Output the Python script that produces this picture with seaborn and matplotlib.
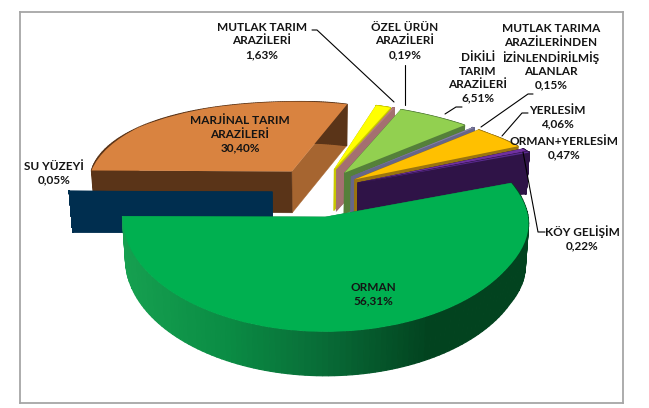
import numpy as np
import matplotlib
matplotlib.use("Agg")
import matplotlib.pyplot as plt
from matplotlib.colors import LinearSegmentedColormap
from matplotlib.lines import Line2D
from matplotlib.transforms import Transform
import seaborn as sns

names = [
    "MARJİNAL TARIM\nARAZİLERİ",
    "MUTLAK TARIM\nARAZİLERİ",
    "ÖZEL ÜRÜN\nARAZİLERİ",
    "DİKİLİ\nTARIM\nARAZİLERİ",
    "MUTLAK TARIMA\nARAZİLERİNDEN\nİZİNLENDİRİLMİŞ\nALANLAR",
    "YERLESİM",
    "ORMAN+YERLESİM",
    "KÖY GELİŞİM",
    "ORMAN",
    "SU YÜZEYİ",
]
shares = [30.40, 1.63, 0.19, 6.51, 0.15, 4.06, 0.47, 0.22, 56.31, 0.05]
top_colors = ["#D98340", "#FFFF00", "#B87E7E", "#92D050", "#8A84A8",
              "#FFC000", "#7030A0", "#5A2A90", "#00B050", "#002E4F"]
wall_colors = ["#5A3418", "#C8C800", "#A47070", "#55803A", "#66668A",
               "#9A7410", "#2F1347", "#2F1347", "#0A8C44", "#002E4F"]
# second face of the orange slice, it catches more light
orange_side = "#A66530"
orman_wall = ["#16A050", "#0A8C44", "#086A36", "#02431F", "#02431F"]
# su has to be painted before orman
paint_rank = [0, 1, 2, 3, 4, 5, 6, 7, 9, 8]

# label centres and leader lines, in picture pixels
label_xy = [(240, 134), (262, 41), (405, 41), (478, 78), (551, 57),
            (557, 117), (564, 148), (582, 238), (373, 294), (54, 173)]
leaders = [
    [(312, 30), (317, 30), (394, 102)],
    [(405, 65), (405, 105)],
    [(445, 114), (456, 107), (462, 107)],
    [(533, 94), (528, 94), (481, 127)],
    [(528, 113), (522, 113), (502, 136)],
    [(523, 152), (538, 232), (545, 232)],
]

W, H = 649, 408
left, right, top, bottom = 20, 623, 12, 403
cx, cy, rx, ry = 317, 192, 203, 115
thick = 0.36


class Warp(Transform):
    """Flat pie to tilted pie: the back shrinks, the back right also sags."""
    input_dims = output_dims = 2

    def transform_non_affine(self, xy):
        xy = np.asarray(xy, dtype=float)
        u, v = xy[:, 0], xy[:, 1]
        sag = 0.09 * np.clip(u, 0, 1) ** 1.5 * np.clip(1 + v / 0.6, 0, 1)
        back = np.clip(v, 0, None)
        out = xy / (1 + 0.36 * back**2)[:, None]
        out[:, 1] -= sag
        return out


warp = Warp()


def wall(ax, u, v, color, z, lw=0.3):
    xy = warp.transform(np.column_stack([u, v]))
    drop = thick * (1 + 0.05 * np.clip(-np.asarray(v), 0, None))
    low = xy * [0.985, 1]
    low[:, 1] -= drop
    ring = np.vstack([xy, low[::-1]])
    ax.fill(ring[:, 0], ring[:, 1], color=color, lw=lw, zorder=z)


sns.set_theme(style="white")
plt.rcParams["font.family"] = ["Lato", "DejaVu Sans"]

fig = plt.figure(figsize=(W / 100, H / 100), dpi=100)
ax = fig.add_axes([left / W, 1 - bottom / H, (right - left) / W, (bottom - top) / H])

wedges, _ = ax.pie(
    shares,
    colors=sns.color_palette(top_colors),
    explode=[0.22] * len(shares),
    startangle=179.5,
    counterclock=False,
    wedgeprops={"linewidth": 0},
)
ax.set_aspect("auto")
ax.set_xlim((left - cx) / rx, (right - cx) / rx)
ax.set_ylim((cy - bottom) / ry, (cy - top) / ry)
ax.set_frame_on(True)
for s in ax.spines.values():
    s.set_color("#A6A6A6")
    s.set_linewidth(1.3)

orman_cmap = LinearSegmentedColormap.from_list("orman", orman_wall)

for i, w in enumerate(wedges):
    z = 3 * paint_rank[i] + 2
    c0, c1 = w.center
    w.set_transform(warp + ax.transData)
    w.set_zorder(z + 2)
    for k, th in enumerate((w.theta1, w.theta2)):
        t = np.radians(th)
        side = orange_side if (i == 0 and k == 0) else wall_colors[i]
        wall(ax, [c0, c0 + np.cos(t)], [c1, c1 + np.sin(t)], side, z)
    steps = np.linspace(w.theta1, w.theta2, 121)
    for a, b in zip(steps[:-1], steps[1:]):
        t = np.radians([a, b])
        if names[i] == "ORMAN":
            pos = (np.cos(np.radians(a)) + 1) / 2
            col = orman_cmap(pos)
        else:
            col = wall_colors[i]
        wall(ax, c0 + np.cos(t), c1 + np.sin(t), col, z + 1, lw=0.9)

for name, share, (x, y) in zip(names, shares, label_xy):
    text = name + "\n" + f"{share:.2f}%".replace(".", ",")
    fig.text(x / W, 1 - y / H, text, ha="center", va="center", fontsize=8.5,
             fontweight="bold", color="#141414", linespacing=1.28, zorder=50)

for pts in leaders:
    xs, ys = zip(*pts)
    fig.add_artist(Line2D(np.array(xs) / W, 1 - np.array(ys) / H,
                          color="black", lw=0.8, zorder=40))

fig.savefig("out.png", dpi=100)
